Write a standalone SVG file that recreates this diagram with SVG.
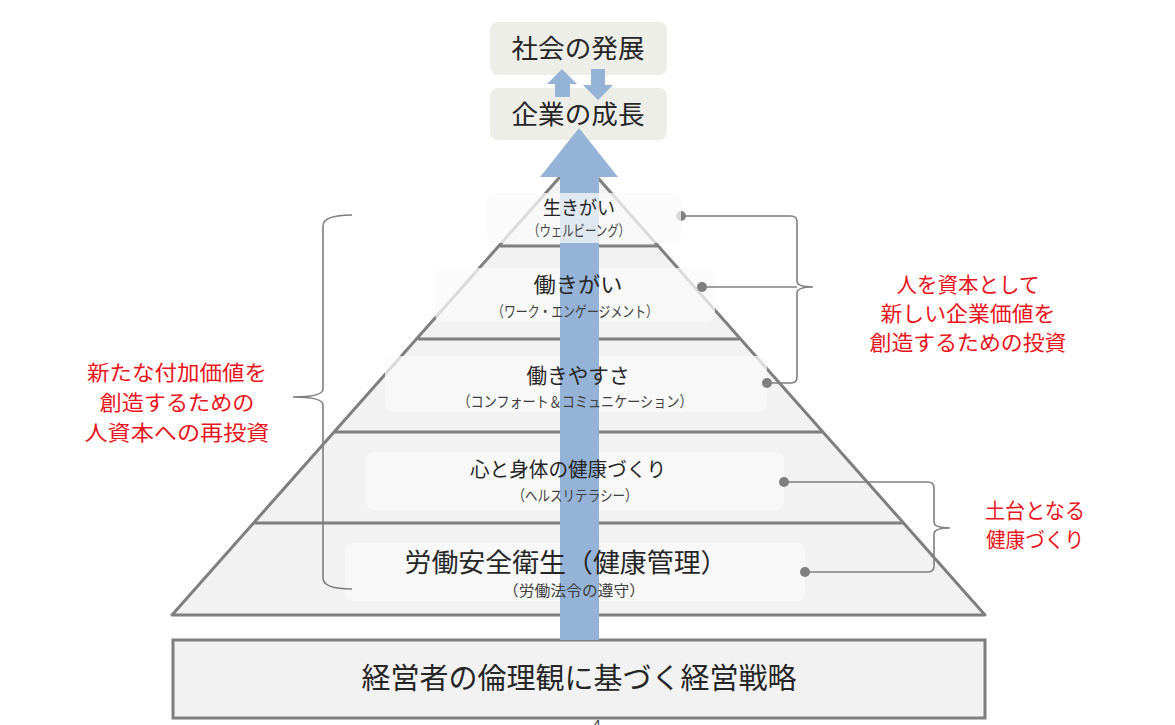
<svg xmlns="http://www.w3.org/2000/svg" width="1175" height="725" viewBox="0 0 1175 725">
<style>
.jp{font-family:"Noto Sans CJK JP","Noto Sans CJK SC",sans-serif;}
.main{fill:#262626;text-anchor:middle;}
.sub{fill:#404040;text-anchor:middle;font-size:15px;}
.red{fill:#e8141c;text-anchor:middle;font-size:21px;}
.tier{stroke:#7f7f7f;stroke-width:3;fill:none;}
.lbl{fill:#f9f9f9;fill-opacity:0.75;}
.top{fill:#eeeee8;}
.br{stroke:#7f7f7f;stroke-width:1.6;fill:none;}
.dot{fill:#7f7f7f;}
.blue{fill:#95b3d7;}
</style>
<rect width="1175" height="725" fill="#ffffff"/>

<g id="pyramid">
<polygon points="578.5,156 985,615 172,615" fill="#f2f2f2" stroke="#7f7f7f" stroke-width="3" stroke-linejoin="round"/>
<line class="tier" x1="500" y1="246" x2="657" y2="246"/>
<line class="tier" x1="418" y1="339" x2="739" y2="339"/>
<line class="tier" x1="335" y1="432" x2="822" y2="432"/>
<line class="tier" x1="254" y1="523" x2="903" y2="523"/>
</g>

<g id="label-boxes">
<rect class="lbl" x="435" y="268" width="280" height="54" rx="8"/>
<rect class="lbl" x="385" y="356" width="382" height="56" rx="8"/>
<rect class="lbl" x="366" y="452" width="418" height="58" rx="8"/>
<rect class="lbl" x="345" y="543" width="460" height="58" rx="8"/>
</g>

<g id="base">
<rect x="173" y="640" width="812" height="78" fill="#f2f2f2" stroke="#7f7f7f" stroke-width="3"/>
<text class="jp main" x="579" y="689" font-size="29" textLength="435" lengthAdjust="spacingAndGlyphs">経営者の倫理観に基づく経営戦略</text>
</g>

<g id="top-boxes">
<g id="society">
<rect class="top" x="490" y="22" width="177" height="53" rx="8"/>
<text class="jp main" x="578" y="58" font-size="26" textLength="133" lengthAdjust="spacingAndGlyphs">社会の発展</text>
</g>
<g id="company">
<rect class="top" x="490" y="88" width="177" height="52" rx="8"/>
<text class="jp main" x="578" y="124" font-size="26" textLength="133" lengthAdjust="spacingAndGlyphs">企業の成長</text>
</g>
</g>

<g id="connectors">
<polygon class="blue" points="579,128 618,177 599,177 599,640 560,640 560,177 540,177"/>
<polygon class="blue" points="562,69 577,84 570,84 570,97 555,97 555,84 547,84"/>
<polygon class="blue" points="598,100 613,85 605,85 605,69 591,69 591,85 583,85"/>
<path class="br" d="M681,216 H791 Q797,216 797,222 V281 Q797,287 813,287 Q797,287 797,293 V377 Q797,383 791,383 H767"/>
<line class="br" x1="702" y1="287" x2="797" y2="287"/>
<path class="br" d="M784,482 H928 Q934,482 934,488 V522 Q934,528 950,528 Q934,528 934,534 V566 Q934,572 928,572 H805"/>
<path class="br" d="M352,215 Q323,215 323,226 V389 Q323,397 293,397 Q323,397 323,405 V578 Q323,589 352,589"/>
<circle class="dot" cx="681" cy="216" r="5"/>
<circle class="dot" cx="702" cy="287" r="5"/>
<circle class="dot" cx="767" cy="383" r="5"/>
<circle class="dot" cx="784" cy="482" r="5"/>
<circle class="dot" cx="805" cy="572" r="5"/>
</g>

<g id="tier1">
<rect class="lbl" x="487" y="193" width="194" height="50" rx="8"/>
<text class="jp main" x="579" y="215" font-size="19" textLength="72" lengthAdjust="spacingAndGlyphs">生きがい</text>
<text class="jp sub" x="579" y="236" textLength="102" lengthAdjust="spacingAndGlyphs">（ウェルビーング）</text>
</g>
<g id="tier2">
<text class="jp main" x="578" y="292" font-size="21" textLength="89" lengthAdjust="spacingAndGlyphs">働きがい</text>
<text class="jp sub" x="575" y="317" textLength="166" lengthAdjust="spacingAndGlyphs">（ワーク・エンゲージメント）</text>
</g>
<g id="tier3">
<text class="jp main" x="578" y="383" font-size="21" textLength="103" lengthAdjust="spacingAndGlyphs">働きやすさ</text>
<text class="jp sub" x="575" y="407" textLength="235" lengthAdjust="spacingAndGlyphs">（コンフォート＆コミュニケーション）</text>
</g>
<g id="tier4">
<text class="jp main" x="568" y="477" font-size="20" textLength="196" lengthAdjust="spacingAndGlyphs">心と身体の健康づくり</text>
<text class="jp sub" x="575" y="501" textLength="125" lengthAdjust="spacingAndGlyphs">（ヘルスリテラシー）</text>
</g>
<g id="tier5">
<text class="jp main" x="566" y="572" font-size="26" textLength="323" lengthAdjust="spacingAndGlyphs">労働安全衛生（健康管理）</text>
<text class="jp sub" x="574" y="596" textLength="142" lengthAdjust="spacingAndGlyphs">（労働法令の遵守）</text>
</g>

<g id="note-left">
<text class="jp red" x="177" y="380" textLength="180" lengthAdjust="spacingAndGlyphs">新たな付加価値を</text>
<text class="jp red" x="177" y="410" textLength="155" lengthAdjust="spacingAndGlyphs">創造するための</text>
<text class="jp red" x="177" y="440" textLength="185" lengthAdjust="spacingAndGlyphs">人資本への再投資</text>
</g>
<g id="note-right">
<text class="jp red" x="968" y="292" textLength="143" lengthAdjust="spacingAndGlyphs">人を資本として</text>
<text class="jp red" x="968" y="321" textLength="175" lengthAdjust="spacingAndGlyphs">新しい企業価値を</text>
<text class="jp red" x="968" y="350" textLength="197" lengthAdjust="spacingAndGlyphs">創造するための投資</text>
</g>
<g id="note-bottom">
<text class="jp red" x="1035" y="518" textLength="100" lengthAdjust="spacingAndGlyphs">土台となる</text>
<text class="jp red" x="1035" y="547" textLength="98" lengthAdjust="spacingAndGlyphs">健康づくり</text>
</g>
<text class="jp" x="597" y="730" font-size="14" fill="#404040" text-anchor="middle">4</text>
</svg>
